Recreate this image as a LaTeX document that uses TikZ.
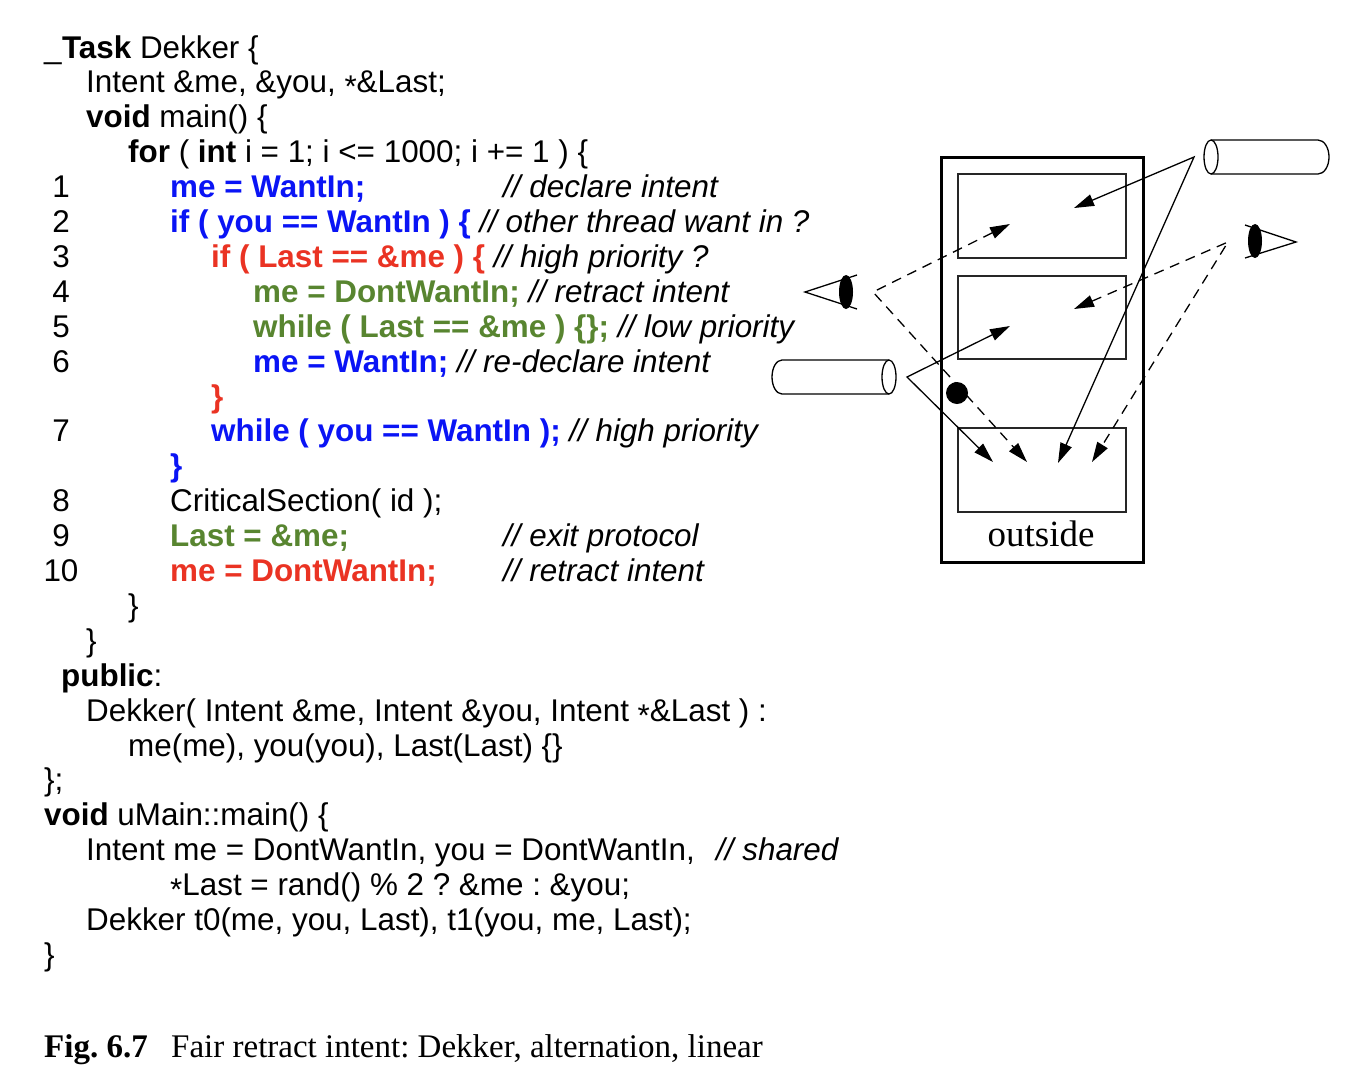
\documentclass[tikz,border=0pt]{standalone}
\usepackage{fontspec}
\setmainfont{Liberation Sans}
\newfontfamily\capfont{Liberation Serif}
\usetikzlibrary{arrows.meta}
\frenchspacing
\definecolor{cblue}{RGB}{10,20,245}
\definecolor{cred}{RGB}{234,51,35}
\definecolor{cgreen}{RGB}{88,133,48}
\newcommand\codesize{\fontsize{31.4}{35}\selectfont}
\newcommand\myast{\raisebox{-0.3ex}{*}}
\newcommand\cm[1]{\textit{// #1}}
\tikzset{
  code/.style={anchor=base west, inner sep=0pt, font=\codesize},
  num/.style={anchor=base, inner sep=0pt, font=\codesize},
  kwblue/.style={code, text=cblue, font=\codesize\bfseries},
  kwred/.style={code, text=cred, font=\codesize\bfseries},
  kwgreen/.style={code, text=cgreen, font=\codesize\bfseries},
  thin/.style={line width=1.3pt},
  boxline/.style={line width=1.5pt, draw=black!85},
  dual/.style={{Triangle[length=20pt,width=12pt]}-{Triangle[length=20pt,width=12pt]}, line width=1.3pt},
  dashline/.style={dash pattern=on 10pt off 7pt}
}
\begin{document}
\begin{tikzpicture}[x=1pt,y=-1pt]
\path[use as bounding box] (0,0) rectangle (1354,1082);
% ---------- code ----------
\node[code] (l0) at (44,{58+34.9*0}) {\_\textbf{Task} Dekker \{};
\node[code] (l1) at (86,{58+34.9*1}) {Intent \&me, \&you, \myast\&Last;};
\node[code] (l2) at (86,{58+34.9*2}) {\textbf{void} main() \{};
\node[code] (l3) at (128,{58+34.9*3}) {\textbf{for} ( \textbf{int} i = 1; i <= 1000; i += 1 ) \{};
\node[num] (n1) at (61,{58+34.9*4}) {1};
\node[kwblue] (l4) at (170,{58+34.9*4}) {me = WantIn;};
\node[code] (c4) at (503,{58+34.9*4}) {\cm{declare intent}};
\node[num] (n2) at (61,{58+34.9*5}) {2};
\node[kwblue] (l5) at (170,{58+34.9*5}) {if ( you == WantIn ) \{ \mdseries\itshape\color{black}// other thread want in ?};
\node[num] (n3) at (61,{58+34.9*6}) {3};
\node[kwred] (l6) at (211,{58+34.9*6}) {if ( Last == \&me ) \{ \mdseries\itshape\color{black}// high priority ?};
\node[num] (n4) at (61,{58+34.9*7}) {4};
\node[kwgreen] (l7) at (253,{58+34.9*7}) {me = DontWantIn; \mdseries\itshape\color{black}// retract intent};
\node[num] (n5) at (61,{58+34.9*8}) {5};
\node[kwgreen] (l8) at (253,{58+34.9*8}) {while ( Last == \&me ) \{\}; \mdseries\itshape\color{black}// low priority};
\node[num] (n6) at (61,{58+34.9*9}) {6};
\node[kwblue] (l9) at (253,{58+34.9*9}) {me = WantIn; \mdseries\itshape\color{black}// re-declare intent};
\node[kwred] (l10) at (211,{58+34.9*10}) {\}};
\node[num] (n7) at (61,{58+34.9*11}) {7};
\node[kwblue] (l11) at (211,{58+34.9*11}) {while ( you == WantIn ); \mdseries\itshape\color{black}// high priority};
\node[kwblue] (l12) at (170,{58+34.9*12}) {\}};
\node[num] (n8) at (61,{58+34.9*13}) {8};
\node[code] (l13) at (170,{58+34.9*13}) {CriticalSection( id );};
\node[num] (n9) at (61,{58+34.9*14}) {9};
\node[kwgreen] (l14) at (170,{58+34.9*14}) {Last = \&me;};
\node[code] (c14) at (503,{58+34.9*14}) {\cm{exit protocol}};
\node[num] (n10) at (61,{58+34.9*15}) {10};
\node[kwred] (l15) at (170,{58+34.9*15}) {me = DontWantIn;};
\node[code] (c15) at (503,{58+34.9*15}) {\cm{retract intent}};
\node[code] (l16) at (128,{58+34.9*16}) {\}};
\node[code] (l17) at (86,{58+34.9*17}) {\}};
\node[code] (l18) at (61,{58+34.9*18}) {\textbf{public}:};
\node[code] (l19) at (86,{58+34.9*19}) {Dekker( Intent \&me, Intent \&you, Intent \myast\&Last ) :};
\node[code] (l20) at (128,{58+34.9*20}) {me(me), you(you), Last(Last) \{\}};
\node[code] (l21) at (44,{58+34.9*21}) {\};};
\node[code] (l22) at (44,{58+34.9*22}) {\textbf{void} uMain::main() \{};
\node[code] (l23) at (86,{58+34.9*23}) {Intent me = DontWantIn, you = DontWantIn,};
\node[code] (c23) at (716,{58+34.9*23}) {\cm{shared}};
\node[code] (l24) at (170,{58+34.9*24}) {\myast Last = rand() \% 2 ? \&me : \&you;};
\node[code] (l25) at (86,{58+34.9*25}) {Dekker t0(me, you, Last), t1(you, me, Last);};
\node[code] (l26) at (44,{58+34.9*26}) {\}};
% ---------- caption ----------
\node[anchor=base west, inner sep=0pt, font=\capfont\fontsize{33}{38}\selectfont\bfseries] (figno) at (44,1057) {Fig. 6.7};
\node[anchor=base west, inner sep=0pt, font=\capfont\fontsize{33}{38}\selectfont] (figcap) at (171,1057) {Fair retract intent: Dekker, alternation, linear};
% ---------- diagram ----------
\draw[line width=3pt] (941,157) rectangle (1143,562);
\draw[boxline] (958,174) rectangle (1126,258);
\draw[boxline] (958,276) rectangle (1126,359);
\draw[boxline] (958,428) rectangle (1126,512);
\node[anchor=base, inner sep=0pt, font=\capfont\fontsize{37}{40}\selectfont] (outside) at (1041,546) {outside};
% cylinders
\draw[thin] (889,360) -- (782,360) arc[start angle=90,end angle=270,x radius=10pt,y radius=17pt] -- (889,394);
\draw[thin] (889,377) ellipse[x radius=7pt,y radius=17pt];
\draw[thin] (1211,140) -- (1318,140) arc[start angle=90,end angle=-90,x radius=11pt,y radius=17pt] -- (1211,174);
\draw[thin] (1211,157) ellipse[x radius=7pt,y radius=17pt];
% eyes
\draw[thin] (857,275) -- (805,292) -- (857,309);
\fill (846,292) ellipse[x radius=7pt,y radius=17pt];
\draw[thin] (1245,225) -- (1296,242) -- (1245,258);
\fill (1255,241) ellipse[x radius=7pt,y radius=17pt];
% dot
\fill (957,393) circle (11pt);
% arrow points
\coordinate (tcV) at (1194,157);
\coordinate (t1a) at (1074,208);
\coordinate (t3c) at (1058,463);
\coordinate (lcV) at (907,377);
\coordinate (t2b) at (1010,326);
\coordinate (t3a) at (993,462);
\coordinate (leV) at (873,292);
\coordinate (t1b) at (1010,224);
\coordinate (t3b) at (1027,462);
\coordinate (reV) at (1228,242);
\coordinate (t2a) at (1074,309);
\coordinate (t3d) at (1092,462);
\draw[dual] (t1a) -- (tcV) -- (t3c);
\draw[dual] (t2b) -- (lcV) -- (t3a);
\draw[dual,dashline] (t1b) -- (leV) -- (t3b);
\draw[dual,dashline] (t2a) -- (reV) -- (t3d);
\end{tikzpicture}
\end{document}
